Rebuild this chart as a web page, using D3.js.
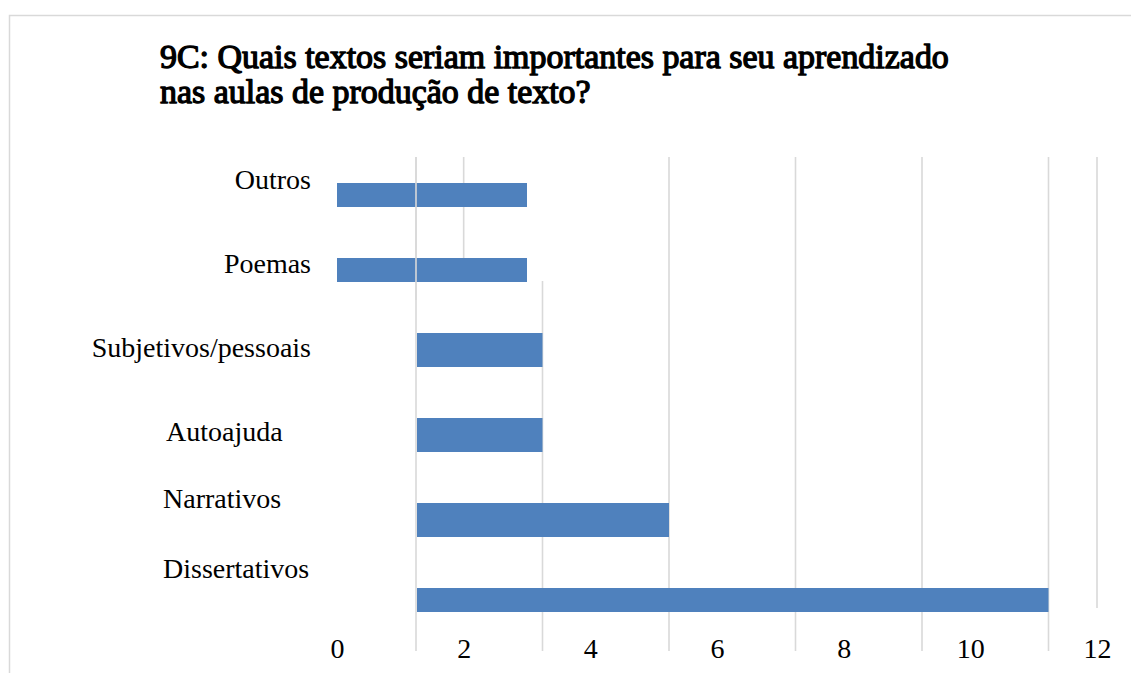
<!DOCTYPE html>
<html>
<head>
<meta charset="utf-8">
<script src="https://cdn.jsdelivr.net/npm/d3@7"></script>
<style>
  body { margin: 0; background: #fff; }
  svg text { font-family: "Liberation Serif", "Times New Roman", serif; fill: #000; }
</style>
</head>
<body>
<div id="main"></div>
<script>
var width = 1131;
var height = 673;

var titleLines = ["9C: Quais textos seriam importantes para seu aprendizado",
                  "nas aulas de produção de texto?"];
var categories = ["Outros", "Poemas", "Subjetivos/pessoais", "Autoajuda", "Narrativos", "Dissertativos"];
var values = [3, 3, 2, 2, 4, 10];
var tickValues = [0, 2, 4, 6, 8, 10, 12];

var GRID = "#d9d9d9";
var BAR = "#4f81bd";

function init(){

  var svg = d3.select("#main")
    .append("svg")
    .attr("width", width)
    .attr("height", height);

  // frame (only top and left edges show)
  svg.append("path")
    .attr("d", "M9.5,673V15.5H1131")
    .attr("fill", "none")
    .attr("stroke", GRID)
    .attr("stroke-width", 1.5);

  // axis scale, and the shifted copy the lower bars were drawn with
  var x = d3.scaleLinear().domain([0, 12]).range([337, 1097]);
  var xs = d3.scaleLinear().domain([0, 12]).range([416, 1175]);

  var upper = categories.slice(0, 2);
  var lower = categories.slice(2);

  var yUp = d3.scaleBand().domain(upper).range([145.5, 319.5]).paddingInner(0.68).paddingOuter(0.5);
  var yLow = d3.scaleBand().domain(lower).range([290.5, 664.5]).paddingInner(0.6).paddingOuter(0.5);

  var grid = svg.append("g").attr("stroke", GRID).attr("stroke-width", 1.6);

  // gridlines of the shifted layer
  grid.selectAll(".gs")
    .data([0, 2, 4, 6, 8, 10])
    .enter().append("line")
    .attr("class", "gs")
    .attr("x1", function(d){ return xs(d); })
    .attr("x2", function(d){ return xs(d); })
    .attr("y1", function(d){ return d === 2 ? 281 : 157; })
    .attr("y2", 651);

  // leftover gridlines of the original layer
  grid.selectAll(".gt")
    .data([2, 12])
    .enter().append("line")
    .attr("class", "gt")
    .attr("x1", function(d){ return x(d); })
    .attr("x2", function(d){ return x(d); })
    .attr("y1", 157)
    .attr("y2", function(d){ return d === 2 ? 258 : 608; });

  var data = categories.map(function(c, i){ return {cat: c, value: values[i]}; });

  svg.append("defs").append("clipPath").attr("id", "lowclip")
    .append("rect").attr("x", 0).attr("y", 0).attr("width", width).attr("height", 612);

  svg.append("g").selectAll("rect")
    .data(data.slice(0, 2))
    .enter().append("rect")
    .attr("x", x(0))
    .attr("y", function(d){ return yUp(d.cat); })
    .attr("width", function(d){ return x(d.value) - x(0); })
    .attr("height", yUp.bandwidth())
    .attr("fill", BAR);

  svg.append("g").attr("clip-path", "url(#lowclip)").selectAll("rect")
    .data(data.slice(2))
    .enter().append("rect")
    .attr("x", xs(0) + 1)
    .attr("y", function(d){ return yLow(d.cat); })
    .attr("width", function(d){ return xs(d.value) - xs(0) - 1; })
    .attr("height", yLow.bandwidth())
    .attr("fill", BAR);

  // zero line of shifted layer runs over the upper bars
  svg.append("line")
    .attr("x1", xs(0)).attr("x2", xs(0))
    .attr("y1", 157).attr("y2", 300)
    .attr("stroke", GRID).attr("stroke-width", 1.6);

  // category labels
  var labelY = d3.scalePoint().domain(categories).range([179, 599]);
  var labelShift = {"Narrativos": -17, "Dissertativos": -31};
  var rightSide = {"Outros": 1, "Poemas": 1, "Subjetivos/pessoais": 1};
  var labelLeft = {"Autoajuda": 166, "Narrativos": 163, "Dissertativos": 163};

  svg.append("g").selectAll("text")
    .data(categories)
    .enter().append("text")
    .attr("font-size", 28)
    .attr("dy", "0.35em")
    .attr("text-anchor", function(d){ return rightSide[d] ? "end" : "start"; })
    .attr("x", function(d){ return rightSide[d] ? 311 : labelLeft[d]; })
    .attr("y", function(d){ return labelY(d) + (labelShift[d] || 0); })
    .text(function(d){ return d; });

  // value axis
  var axis = svg.append("g")
    .attr("transform", "translate(0,648)")
    .call(d3.axisBottom(x).tickValues(tickValues).tickSize(0).tickFormat(d3.format("d")));
  axis.select(".domain").remove();
  axis.selectAll("text")
    .attr("y", 0)
    .attr("dy", "0.35em")
    .attr("font-size", 28);

  // title: no bold serif face here, so thicken the regular one, then squeeze
  var title = svg.append("g").attr("transform", "translate(160,0)");
  title.selectAll("text")
    .data(titleLines)
    .enter().append("text")
    .attr("x", 0)
    .attr("y", function(d, i){ return 68 + i * 35; })
    .attr("font-size", 33)
    .attr("stroke", "#000")
    .attr("stroke-width", 1.3)
    .attr("stroke-linejoin", "round")
    .text(function(d){ return d; });
  var natural = title.select("text").node().getComputedTextLength();
  title.attr("transform", "translate(160,0) scale(" + (789 / natural) + ",1)");
}

init();
</script>
</body>
</html>
